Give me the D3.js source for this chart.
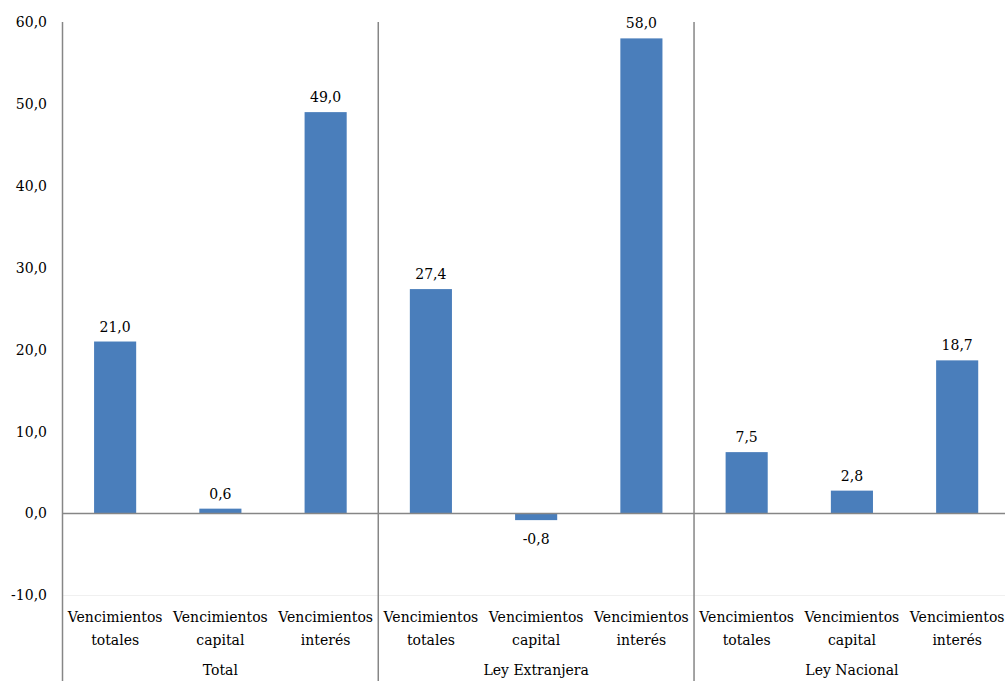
<!DOCTYPE html>
<html>
<head>
<meta charset="utf-8">
<script src="https://cdn.jsdelivr.net/npm/d3@7"></script>
<style>
  html, body { margin: 0; padding: 0; background: #fff; }
  svg { display: block; }
</style>
</head>
<body>
<svg id="chart" width="1005" height="681"></svg>
<script>
// Groups and sub-categories (two-line labels)
const groups = ["Total", "Ley Extranjera", "Ley Nacional"];
const subLabels = [["Vencimientos", "totales"], ["Vencimientos", "capital"], ["Vencimientos", "interés"]];
// Values per group, in sub-category order
const totalValues = [21.0, 0.6, 49.0];
const extranjeraValues = [27.4, -0.8, 58.0];
const nacionalValues = [7.5, 2.8, 18.7];
const yTicks = [-10, 0, 10, 20, 30, 40, 50, 60];

const seriesByGroup = [totalValues, extranjeraValues, nacionalValues];
const rows = [];
groups.forEach((g, gi) => {
  subLabels.forEach((s, si) => {
    rows.push({ key: g + "|" + si, group: g, gi, si, label: s, value: seriesByGroup[gi][si] });
  });
});

const FONT = "DejaVu Serif, Liberation Serif, serif";
const svg = d3.select("#chart");
const plotLeft = 62.5, plotRight = 1009.8, plotTop = 22, plotBottom = 595.5, frameBottom = 681;

const x = d3.scaleBand()
  .domain(rows.map(d => d.key))
  .range([plotLeft, plotRight])
  .paddingInner(0.6)
  .paddingOuter(0.3);
const step = x.step();

const y = d3.scaleLinear().domain([-10, 60]).range([plotBottom, plotTop]);

// one decimal, comma separator, ASCII hyphen for negatives
const fmt = v => (v < 0 ? "-" : "") + Math.abs(v).toFixed(1).replace(".", ",");

const label = sel => sel
  .attr("font-family", FONT)
  .attr("font-size", 14)
  .attr("fill", "#000");

// faint gridline at the lowest tick
svg.append("line")
  .attr("x1", plotLeft).attr("x2", plotRight)
  .attr("y1", y(-10)).attr("y2", y(-10))
  .attr("stroke", "#f0f0f0").attr("stroke-width", 1);

// y axis tick labels
svg.append("g").selectAll("text")
  .data(yTicks)
  .join("text")
  .call(label)
  .attr("x", 47)
  .attr("y", d => y(d))
  .attr("dy", "0.35em")
  .attr("text-anchor", "end")
  .text(d => fmt(d));

// bars
svg.append("g").selectAll("rect")
  .data(rows)
  .join("rect")
  .attr("x", d => x(d.key))
  .attr("width", x.bandwidth())
  .attr("y", d => y(Math.max(0, d.value)))
  .attr("height", d => Math.abs(y(d.value) - y(0)))
  .attr("fill", "#4a7ebb");

// value labels
svg.append("g").selectAll("text")
  .data(rows)
  .join("text")
  .call(label)
  .attr("x", d => x(d.key) + x.bandwidth() / 2)
  .attr("y", d => d.value >= 0 ? y(d.value) - 10 : y(d.value) + 24)
  .attr("text-anchor", "middle")
  .text(d => fmt(d.value));

// zero line
svg.append("line")
  .attr("x1", plotLeft).attr("x2", plotRight)
  .attr("y1", y(0)).attr("y2", y(0))
  .attr("stroke", "#868686").attr("stroke-width", 1.5);

// left axis and group separators
const sepX = [plotLeft, plotLeft + 3 * step, plotLeft + 6 * step];
svg.append("g").selectAll("line")
  .data(sepX)
  .join("line")
  .attr("x1", d => d).attr("x2", d => d)
  .attr("y1", plotTop).attr("y2", frameBottom)
  .attr("stroke", "#868686").attr("stroke-width", 1.5);

// sub-category labels
const sub = svg.append("g").selectAll("text")
  .data(rows)
  .join("text")
  .call(label)
  .attr("text-anchor", "middle")
  .attr("y", 622);
sub.each(function(d) {
  const cx = x(d.key) + x.bandwidth() / 2;
  const t = d3.select(this);
  t.append("tspan").attr("x", cx).attr("dy", 0).text(d.label[0]);
  t.append("tspan").attr("x", cx).attr("dy", 23).text(d.label[1]);
});

// group labels
svg.append("g").selectAll("text")
  .data(groups)
  .join("text")
  .call(label)
  .attr("x", (d, i) => plotLeft + (i * 3 + 1.5) * step)
  .attr("y", 675)
  .attr("text-anchor", "middle")
  .text(d => d);
</script>
</body>
</html>
